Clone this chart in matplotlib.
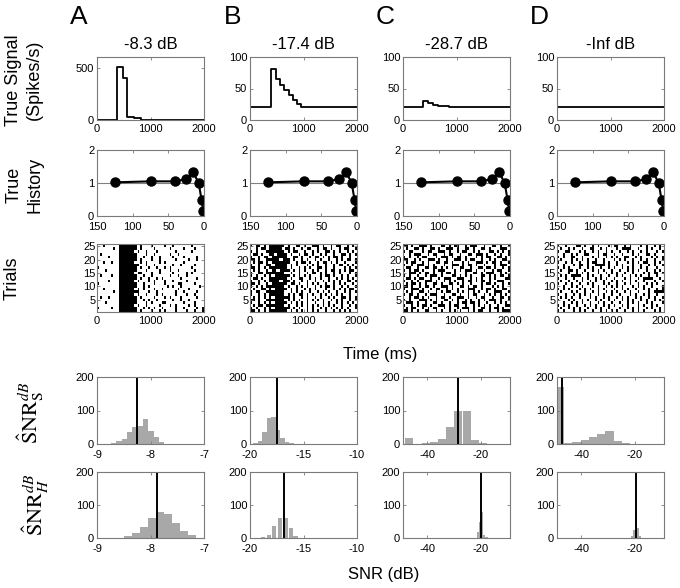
import numpy as np
import matplotlib
matplotlib.use("Agg")
import matplotlib.pyplot as plt

plt.rcParams['font.family'] = ['Liberation Sans', 'DejaVu Sans']
plt.rcParams['axes.unicode_minus'] = False

# ---- data -------------------------------------------------------------
panel_letters = ['A', 'B', 'C', 'D']
panel_titles = ['-8.3 dB', '-17.4 dB', '-28.7 dB', '-Inf dB']

# true signal (spikes/s), step functions
sig_a_t = [0, 375, 490, 565, 690, 815, 2000]
sig_a_y = [2, 505, 400, 30, 16, 3, 3]
sig_b_t = [0, 400, 480, 560, 640, 720, 800, 880, 960, 2000]
sig_b_y = [20, 81, 65, 55, 47, 39, 31, 26, 20, 20]
sig_c_t = [0, 375, 462, 554, 646, 733, 862, 2000]
sig_c_y = [20, 30, 27, 24.5, 22.5, 21.5, 20.5, 20]
sig_d_t = [0, 2000]
sig_d_y = [20, 20]

# true history filter (same in all panels)
hist_lag = [125, 75, 40, 25, 15, 7.5, 3.5, 1]
hist_val = [1.02, 1.05, 1.05, 1.12, 1.32, 1.0, 0.5, 0.15]

# spike rasters, 25 trials (top row = trial 25), 50 ms bins
raster_a = [
    "..#....." "#######" ".#...#....#..#......#....",
    "......#." "######" "#.#....#.....#....#...#...",
    "........" "######" ".#..#...#......#.....#....",
    ".#......" "#######" "...#..#.....#..#.........#",
    "....#..." "######" "#..#..#..#....#...#....#..",
    "........" "#######" ".#...#..#.....#....#..#...",
    "..#..#.." "######" "..#.#....#.#......#.......",
    "........" "######" "##..#..#......#..#....#...",
    "#......." "#######" ".#..#..#..#.#.......#.....",
    "...#...." "######" "#...#....#...#..#.....#...",
    "........" "######" ".##...#..#....#....#.#....",
    ".#...#.." "#######" "..#..#......#..#..#.......",
    "........" "######" "#.#..#..#.#......#.....#..",
    "....#..." "######" ".#...#.#...#..#....#......",
    "#......." "#######" "..#...#...#....##....#....",
    "........" "######" "#..#.#......#.#..#......#.",
    "..#....." "######" ".#.#...#..#.....#...#.....",
    "......#." "#######" "#...#..#......#..#....#...",
    "........" "######" ".#..#...#.#....#...#..#...",
    ".#..#..." "######" "#.#....#...#.#...#.....#..",
    "........" "#######" "..#.#..#.....#..#..#......",
    "...#...." "######" "#...#.#...##......#...#...",
    "........" "######" ".#..#....#...#.#....#.#...",
    "#....#.." "#######" "..#.#.#..#....#..#....#.#.",
    "........" "######" "#.#...#..#.#...#...#..#..#",
]
raster_b = [
    "#.##.#.######.#..##.#..###.#..#.##..#.#.",
    "..#.##.#####.##.#..#.##..#.##.#..#.##..#",
    "#.#...#######.#.##..#..#.#..##.#.#..#.#.",
    ".##.#..##.####.#..#.##.#..#.#..#..##.#.#",
    "#..#.##.######..##.#..#.##.#.#.##.#..#..",
    "##.#..#####.###.#..#.#..#.#..#..#.#.##.#",
    ".#.##.#.#######..#.##.#..#.##.#.#..#...#",
    "#..#..##.#####.#.#...#.#.#..#..#.##.#.#.",
    "##.#.#.#######.#..#.#.#..##.#..#...#.#.#",
    ".#.#..#.##.####.#.#.#..#.#..#.##.#.#.##.",
    "#..##.#######..#..#..#.##.#.#..#.#...#.#",
    "#.#..#.#.######.#.#.#.#...#.##.#..#.#..#",
    ".##.#..#######.#..##..#.#.#..#..#.#.#.#.",
    "#..#.#.####.###.#..#.#..#..#.#.#.#..##.#",
    "##.#..#.######.##.#..#.#.#..#..#.#.#..#.",
    "#.#.#.#######.#..#.#.#..#.#.##.#..#.#..#",
    ".#..##.#.#####.#.#..#.#.#...#..#.#.#.##.",
    "#.##..#######..#.#.#..#..#.#.#..#..#.#.#",
    "#..#.#.######.#.#.##.#.#..#.#.#.#.#..#..",
    ".#.#.#.#.######.#..#.#..#.#..#.#..##.#.#",
    "##.#..#######.#.#.#..#.#.#.#..#.#.#..#.#",
    "#..#.#.#.#####.#.#.#.#..#..#.#..#.#.#.#.",
    ".#.##.#######.#..#.#.#.#.#.#.#.#..#..#.#",
    "#.#..#.#.######.#.#..#.#..#.#.#.#.#.#..#",
    "##.#.#.#######.#.#.#.#.#.#..#..#.#.#.#..",
]
raster_c = [
    "##.#..###.#...##.#.##..#.###..#..##.#..#",
    ".#..##.#..##.#..###.#..##.#..##.#...###.",
    "#.##...#.##..###.#..#.##..#.#...##.#.#.#",
    "..#.###..#.##..#.##..#..##.###.#..#.#..#",
    "#.#..#.##...#.###.#.##.#...#.#.##..##.#.",
    "##..#.#..###.#..#..###.#.##..#..#.#..##.",
    ".#.##..#.#..##.##.#...#.#..###.#.##.#..#",
    "#..#.###.#.#...#..###.#.##.#..#...#.###.",
    ".##..#..##.##.#.#.#..##..#..##.##.#..#.#",
    "#.#.##.#...#.###...#.#.###.#..#..#.##..#",
    "..###.#.##.#..#.##.#...#..##.#.###..#.#.",
    "#.#..#..#.###.#...##.#.#.#...##.#.#.##.#",
    ".##.#.##..#..#.###..###..#.#.#..#.#...##",
    "#..#.#..###.#..#.#.#..#.##.#.##.#..###..",
    ".#.##.#.#..##.#..##.#.#..#...#.##.#..#.#",
    "##.#..#.##.#..###.#..##.#.##.#...#.#.#..",
    "#..###.#..#.##..#.#.#...###..#.##.#..##.",
    ".#.#..##.#..#.#.##..#.#.#.#.#..#..###..#",
    "#.##.#..#.###..#..##.#..#.##..#.#.#.#.#.",
    "..#.##.#.#..#.##.#..###.#..#.##..#..##.#",
    "#.#...###.#.#..##.#.#..#.#..#.#.###.#..#",
    ".###.#..#..##.#..#..#.##.##.#..#..#.#.#.",
    "#..#.#.##.#..###.#.##..#..#.#.#.#..#..##",
    ".#.##..#.#.##..#.#..#.###.#..##.#.##.#..",
    "##.#.#..##..#.#..#.#.#..#.#.##..#..#.###",
]
raster_d = [
    "#..#...##.#..#.#...#.##..#.#...#.#..#.#.",
    ".#..#.#..#..##..#.#...#.####..#..#.#..#.",
    "#..##...#.#..#.#..#.#..#..#.#..#.#...#.#",
    "..#..#.#..##...#.##..#..#...#.#..##.#...",
    "#.#..##..#...#.#..#.#.#..##..#.#...#.#.#",
    ".#...#.#.#.#..#..#...#.#.#..#..#.#..#..#",
    "#..#.#..#..#.##..#.#..#...#.#.#.##..#.#.",
    "..#...#.##.#..####.#..#.#...#..#..#.#..#",
    "#.#.#...#..#.#..#..#.#..#.#.#..#.#...#..",
    ".#..##.#..#..#.#.#..#..#..#.#.#..#..#.#.",
    "#...#..#.#.#...#..#.#.#..#..#...#.#.##.#",
    ".#.#.####..#.#..#..#..#.#..#.#.#..#..#..",
    "#..#..#..#.#..#.#.#..#...#.#..#.####..#.",
    ".#..#..#.#..#.#..#..#.#.#..#.#..#...#..#",
    "#..#.#..#..#.#...#.#..#..#.#..#..#.#.#..",
    "..#..#.#.#...#.#..#.#.#.#...#.#.#..#...#",
    "#.#.#...#.#.#..#.#...#..#.#..#..#.#..#.#",
    ".#...#.#..#..#.#..#.#.#..#.#..#...#.####",
    "#..#..#.#.#.#..#.#..#..#...#.#..#.#..#..",
    ".#.#.#..#...#.#..#.#..#.#.#..#.#..#.#..#",
    "#...#.#..#.#..#.#..#.#..#.#.#..#.#..#.#.",
    "..#..#.#.#..#..#.#..#..#..#.#.#..#.#...#",
    "#.#.#..#..#.#.#..#.#.#..#.#...#.#..#.#..",
    ".#..#.#.#..#..#.#..#...#..#.#.#..#.#..#.",
    "#.#...#.#.#..#..#.#.#.#..#..#.#.#...#.#.",
]

# SNR_S estimates: histogram bin centres and counts
snrs_a_x = [-8.69, -8.59, -8.49, -8.39, -8.29, -8.19, -8.09, -7.99, -7.89, -7.79]
snrs_a_n = [3, 8, 15, 36, 52, 55, 75, 40, 20, 6]
snrs_b_x = [-19.48, -19.06, -18.64, -18.22, -17.80, -17.38, -16.96, -16.54, -16.12]
snrs_b_n = [2, 8, 35, 78, 80, 42, 18, 6, 2]
snrs_c_x = [-46.6, -43.6, -40.5, -37.4, -34.4, -31.3, -28.3, -25.2, -22.1, -19.1]
snrs_c_n = [18, 0, 2, 5, 14, 50, 100, 100, 12, 2]
snrs_d_x = [-47.95, -44.85, -41.75, -38.65, -35.55, -32.45, -29.35, -26.25, -23.15]
snrs_d_n = [170, 4, 6, 12, 20, 30, 40, 8, 2]
snrs_true = [-8.25, -17.5, -28.3, -47.2]

# SNR_H estimates
snrh_a_x = [-8.425, -8.275, -8.125, -7.975, -7.825, -7.675, -7.525, -7.375, -7.225]
snrh_a_n = [5, 15, 34, 60, 78, 73, 44, 20, 8]
snrh_b_x = [-18.76, -18.23, -17.76, -17.22, -16.64, -16.17, -15.76]
snrh_b_n = [3, 10, 35, 62, 62, 30, 5]
snrh_c_x = [-21.0, -20.2, -19.4, -18.6, -17.8]
snrh_c_n = [18, 50, 80, 10, 2]
snrh_d_x = [-21.1, -20.3, -19.5, -18.7, -17.9]
snrh_d_n = [5, 25, 85, 30, 5]
snrh_true = [-7.87, -16.8, -19.8, -19.6]

sig_t = [sig_a_t, sig_b_t, sig_c_t, sig_d_t]
sig_y = [sig_a_y, sig_b_y, sig_c_y, sig_d_y]
rasters = [raster_a, raster_b, raster_c, raster_d]
snrs_x = [snrs_a_x, snrs_b_x, snrs_c_x, snrs_d_x]
snrs_n = [snrs_a_n, snrs_b_n, snrs_c_n, snrs_d_n]
snrh_x = [snrh_a_x, snrh_b_x, snrh_c_x, snrh_d_x]
snrh_n = [snrh_a_n, snrh_b_n, snrh_c_n, snrh_d_n]

# ---- layout -----------------------------------------------------------
W, H = 680, 588
fig = plt.figure(figsize=(W / 100, H / 100), dpi=100)

col_left = [97, 250, 403, 557]
col_w = 107
row_top = [57, 150, 244, 377, 472]
row_h = [63, 66, 68, 67, 66]
frame = '#7a7a7a'
bar_gray = '#a8a8a8'
bin_ms = 50


def make_ax(c, r):
    ax = fig.add_axes([col_left[c] / W, 1 - (row_top[r] + row_h[r]) / H,
                       col_w / W, row_h[r] / H])
    for s in ax.spines.values():
        s.set_color(frame)
        s.set_linewidth(0.8)
    ax.tick_params(direction='in', top=True, right=True, length=2.5,
                   width=0.6, color=frame, labelsize=8)
    ax.tick_params(axis='x', pad=3.2)
    ax.tick_params(axis='y', pad=2)
    return ax


def fx(x):
    return x / W


def fy(y):
    return 1 - y / H


hist_xlims = [(-9, -7), (-20, -10), (-49, -9), (-49, -9)]
hist_xticks = [[-9, -8, -7], [-20, -15, -10], [-40, -20], [-40, -20]]

for c in range(4):
    # true signal
    ax = make_ax(c, 0)
    ax.plot(sig_t[c], sig_y[c], drawstyle='steps-post', color='k', lw=1.3)
    ax.set_xlim(0, 2000)
    ax.set_xticks([0, 1000, 2000])
    if c == 0:
        ax.set_ylim(0, 600)
        ax.set_yticks([0, 500])
    else:
        ax.set_ylim(0, 100)
        ax.set_yticks([0, 50, 100])
    ax.set_title(panel_titles[c], fontsize=12, pad=6)

    # true history
    ax = make_ax(c, 1)
    ax.axhline(1, color='#808080', lw=0.8)
    ax.plot(hist_lag, hist_val, color='k', lw=1.5, marker='o', ms=6.5)
    ax.set_xlim(150, 0)
    ax.set_xticks([150, 100, 50, 0])
    ax.set_ylim(0, 2)
    ax.set_yticks([0, 1, 2])
    ax.tick_params(axis='x', pad=4.2)

    # raster: runs of spikes drawn as bars one trial high
    ax = make_ax(c, 2)
    n_tr = len(rasters[c])
    for i, row in enumerate(rasters[c]):
        row = row.ljust(40, '.')[:40]
        trial = n_tr - i
        runs = []
        j = 0
        while j < len(row):
            if row[j] == '#':
                k = j
                while k < len(row) and row[k] == '#':
                    k += 1
                runs.append((j * bin_ms + 8, (k - j) * bin_ms - 16))
                j = k
            else:
                j += 1
        ax.broken_barh(runs, (trial - 0.5, 1.0), facecolors='k',
                       edgecolor='none')
    ax.set_xlim(0, 2000)
    ax.set_xticks([0, 1000, 2000])
    ax.set_ylim(0.5, 25.8)
    ax.set_yticks([5, 10, 15, 20, 25])
    ax.tick_params(axis='y', pad=1)

    # SNR_S and SNR_H histograms
    for r, xs, ns, lines in [(3, snrs_x, snrs_n, snrs_true),
                             (4, snrh_x, snrh_n, snrh_true)]:
        ax = make_ax(c, r)
        centers = np.array(xs[c])
        width = np.min(np.diff(centers))
        ax.bar(centers, ns[c], width=width, color=bar_gray, edgecolor='none')
        ax.axvline(lines[c], color='k', lw=1.4)
        ax.set_xlim(*hist_xlims[c])
        ax.set_xticks(hist_xticks[c])
        ax.set_ylim(0, 200)
        ax.set_yticks([0, 100, 200])
        ax.tick_params(axis='x', pad=4.5)

# panel letters
for c, letter in enumerate(panel_letters):
    fig.text(fx([79, 233, 385, 539][c]), fy(17), letter, fontsize=19,
             ha='center', va='center')

# row labels
fig.text(fx(24), fy(80), 'True Signal\n(Spikes/s)', rotation=90, fontsize=13,
         ha='center', va='center', linespacing=1.3)
fig.text(fx(25), fy(185), 'True\nHistory', rotation=90, fontsize=13,
         ha='center', va='center', linespacing=1.3)
fig.text(fx(12), fy(278), 'Trials', rotation=90, fontsize=13,
         ha='center', va='center')
fig.text(fx(31), fy(413), r'$\hat{\mathrm{S}}\mathrm{NR}_{\mathrm{S}}^{dB}$',
         rotation=90, fontsize=16, ha='center', va='center',
         math_fontfamily='stix')
fig.text(fx(36), fy(505), r'$\hat{\mathrm{S}}\mathrm{NR}_{H}^{dB}$',
         rotation=90, fontsize=16, ha='center', va='center',
         math_fontfamily='stix')

fig.text(fx(380), fy(355), 'Time (ms)', fontsize=12, ha='center', va='center')
fig.text(fx(384), fy(575), 'SNR (dB)', fontsize=12, ha='center', va='center')

fig.savefig('out.png', dpi=100)
